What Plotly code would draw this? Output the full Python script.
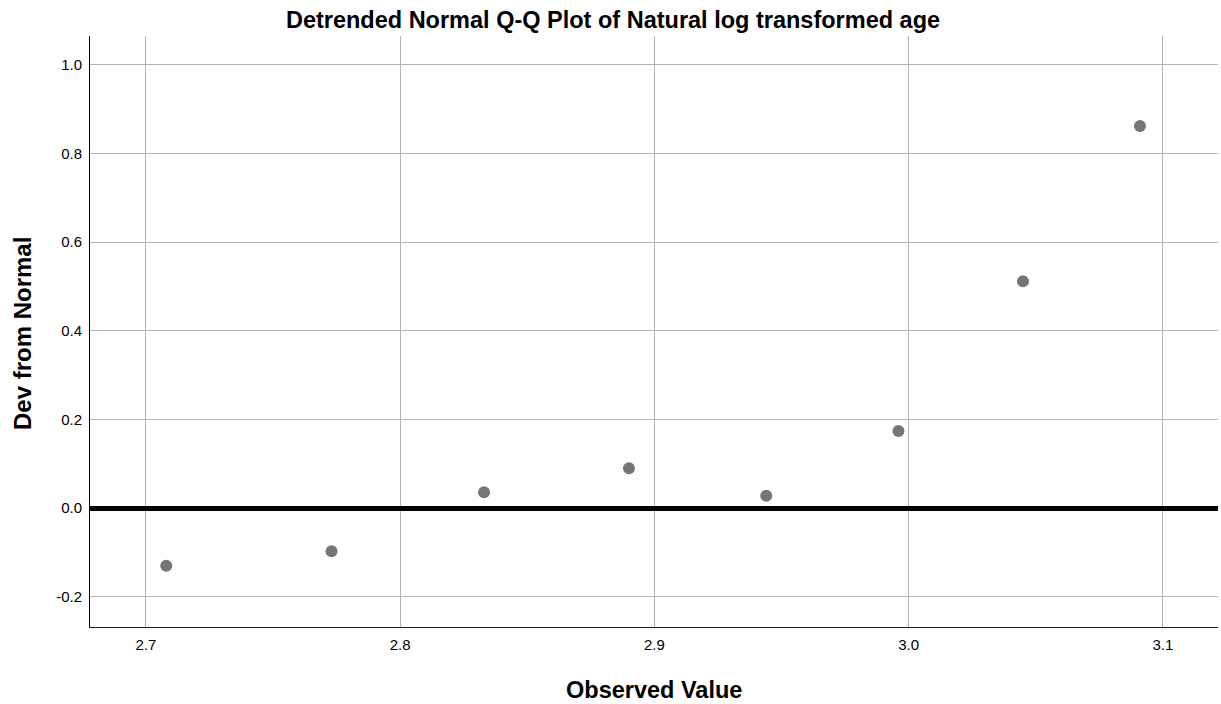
import plotly.graph_objects as go

observed = [2.708, 2.773, 2.833, 2.890, 2.944, 2.996, 3.045, 3.091]
dev_from_normal = [-0.130, -0.097, 0.036, 0.090, 0.028, 0.174, 0.512, 0.862]

x_ticks = [2.7, 2.8, 2.9, 3.0, 3.1]
x_tick_labels = ["2.7", "2.8", "2.9", "3.0", "3.1"]
y_ticks = [-0.2, 0.0, 0.2, 0.4, 0.6, 0.8, 1.0]
y_tick_labels = ["-0.2", "0.0", "0.2", "0.4", "0.6", "0.8", "1.0"]

FONT = "Liberation Sans, Arial, sans-serif"

W, H = 1221, 704
L, R, T, B = 90, 3, 36, 77

fig = go.Figure()
fig.add_trace(go.Scatter(
    x=observed, y=dev_from_normal, mode="markers",
    marker=dict(size=12, color="#767676", line=dict(width=0)),
    showlegend=False, hoverinfo="x+y",
))

fig.update_layout(
    width=W, height=H,
    margin=dict(l=L, r=R, t=T, b=B),
    paper_bgcolor="white", plot_bgcolor="white",
    font=dict(family=FONT, size=15, color="#000000"),
    title=dict(
        text="<b>Detrended Normal Q-Q Plot of Natural log transformed age</b>",
        x=613 / W, xref="container", xanchor="center",
        y=1 - 20 / H, yref="container", yanchor="middle",
        font=dict(family=FONT, size=23.5, color="#000000"),
    ),
    xaxis=dict(
        range=[2.678, 3.1217],
        tickvals=x_ticks, ticktext=x_tick_labels,
        showgrid=True, gridcolor="#b4b4b4", gridwidth=1,
        zeroline=False,
        showline=True, linecolor="#222222", linewidth=1,
        ticks="", ticklabelstandoff=4,
        tickfont=dict(family=FONT, size=15),
        automargin=False,
    ),
    yaxis=dict(
        range=[-0.268, 1.065],
        tickvals=y_ticks, ticktext=y_tick_labels,
        showgrid=True, gridcolor="#b4b4b4", gridwidth=1,
        zeroline=True, zerolinecolor="#000000", zerolinewidth=4.5,
        showline=True, linecolor="#000000", linewidth=1,
        ticks="", ticklabelstandoff=4,
        tickfont=dict(family=FONT, size=15),
        automargin=False,
    ),
    annotations=[
        dict(text="<b>Observed Value</b>", xref="paper", yref="paper",
             x=0.5, y=0, xanchor="center", yanchor="middle", yshift=-63,
             showarrow=False, font=dict(family=FONT, size=23.5, color="#000000")),
        dict(text="<b>Dev from Normal</b>", xref="paper", yref="paper",
             x=0, y=0.5, xanchor="center", yanchor="middle", xshift=-67.5, yshift=-2,
             textangle=-90, showarrow=False,
             font=dict(family=FONT, size=24, color="#000000")),
    ],
)

# remove the browser's default 8px body margin so the figure fills the window exactly
fig.write_html(
    "out.html",
    config={"displayModeBar": False},
    post_script="document.body.style.margin='0';document.body.style.overflow='hidden';",
)
